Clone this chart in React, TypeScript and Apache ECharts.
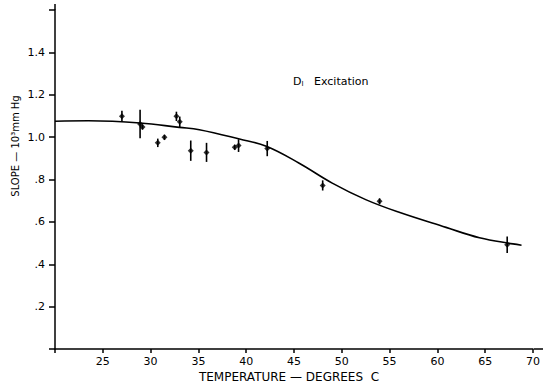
import React, { useEffect, useRef } from "react";
import * as echarts from "echarts";

const temps = [27.0, 28.9, 29.15, 30.75, 31.45, 32.7, 33.05, 34.2, 35.85, 38.8, 39.2, 42.2, 48.0, 53.95, 67.3];
const slopes = [1.098, 1.062, 1.048, 0.973, 0.999, 1.098, 1.072, 0.936, 0.928, 0.952, 0.96, 0.946, 0.772, 0.697, 0.492];
const errors = [0.026, 0.067, 0.012, 0.02, 0.012, 0.022, 0.025, 0.048, 0.045, 0.012, 0.03, 0.036, 0.024, 0.014, 0.039];

const curveT = [20, 23.5, 28.9, 33, 35.1, 39.3, 42.1, 45.5, 49, 52.5, 56, 60.9, 64.4, 67.9, 68.8];
const curveV = [1.075, 1.077, 1.067, 1.046, 1.035, 0.991, 0.957, 0.878, 0.783, 0.705, 0.645, 0.574, 0.525, 0.496, 0.49];

const xTicks = [25, 30, 35, 40, 45, 50, 55, 60, 65, 70];
const yTickLabels: Record<string, string> = { "0.2": ".2", "0.4": ".4", "0.6": ".6", "0.8": ".8", "1": "1.0", "1.2": "1.2", "1.4": "1.4" };

const FONT = "DejaVu Sans";

export default function App() {
  const ref = useRef<HTMLDivElement>(null);
  useEffect(() => {
    document.body.style.margin = "0";
    if (!ref.current) return;
    const chart = echarts.init(ref.current, undefined, { renderer: "svg" });
    const points = temps.map((t, i) => [t, slopes[i]]);
    const bars = temps.map((t, i) => [t, slopes[i] - errors[i], slopes[i] + errors[i]]);
    const curve = curveT.map((t, i) => [t, curveV[i]]);
    chart.setOption({
      animation: false,
      backgroundColor: "#ffffff",
      grid: { left: 55, right: 9, top: 10, bottom: 41, containLabel: false },
      xAxis: {
        type: "value",
        min: 20,
        max: 70,
        interval: 5,
        axisLine: { show: true, lineStyle: { color: "#000", width: 1.5 } },
        axisTick: { show: true, inside: false, length: 4, lineStyle: { color: "#000", width: 1.5 } },
        splitLine: { show: false },
        axisLabel: {
          color: "#000",
          fontFamily: FONT,
          fontSize: 11,
          margin: 7,
          formatter: (v: number) => (xTicks.includes(v) ? String(v) : ""),
        },
      },
      yAxis: {
        type: "value",
        min: 0,
        max: 1.6,
        interval: 0.2,
        axisLine: { show: true, lineStyle: { color: "#000", width: 1.5 } },
        axisTick: { show: true, inside: false, length: 6, lineStyle: { color: "#000", width: 1.5 } },
        splitLine: { show: false },
        axisLabel: {
          color: "#000",
          fontFamily: FONT,
          fontSize: 11,
          margin: 10,
          formatter: (v: number) => yTickLabels[String(Math.round(v * 10) / 10)] ?? "",
        },
      },
      graphic: [
        {
          type: "line",
          shape: { x1: 534, y1: 349, x2: 543, y2: 349 },
          style: { stroke: "#000", lineWidth: 1.5 },
        },
        {
          type: "line",
          shape: { x1: 55, y1: 4, x2: 55, y2: 10 },
          style: { stroke: "#000", lineWidth: 1.5 },
        },
        {
          type: "text",
          x: 15,
          y: 146,
          rotation: Math.PI / 2,
          style: {
            text: "SLOPE — 10³mm Hg",
            fontFamily: FONT,
            fontSize: 10,
            fill: "#000",
            align: "center",
            verticalAlign: "middle",
          },
        },
        {
          type: "text",
          x: 289,
          y: 377,
          style: {
            text: "TEMPERATURE — DEGREES  C",
            fontFamily: FONT,
            fontSize: 12,
            fill: "#000",
            align: "center",
            verticalAlign: "middle",
          },
        },
        {
          type: "text",
          x: 293,
          y: 81,
          style: {
            text: "{d|D}{s|I}{e|   Excitation}",
            fill: "#000",
            verticalAlign: "middle",
            rich: {
              d: { fontFamily: FONT, fontSize: 11, fill: "#000" },
              s: { fontFamily: FONT, fontSize: 7, fill: "#000", padding: [6, 0, 0, 0] },
              e: { fontFamily: FONT, fontSize: 11, fill: "#000" },
            },
          },
        },
      ],
      series: [
        {
          type: "line",
          data: curve,
          smooth: 0.4,
          symbol: "none",
          lineStyle: { color: "#000", width: 1.6 },
          z: 2,
        },
        {
          type: "custom",
          data: bars,
          renderItem: (params: any, api: any) => {
            const x = api.value(0);
            const lo = api.coord([x, api.value(1)]);
            const hi = api.coord([x, api.value(2)]);
            return {
              type: "line",
              shape: { x1: lo[0], y1: lo[1], x2: hi[0], y2: hi[1] },
              style: { stroke: "#000", lineWidth: 1.6 },
            };
          },
          z: 3,
        },
        {
          type: "scatter",
          data: points,
          symbol: "diamond",
          symbolSize: 6,
          itemStyle: { color: "#000" },
          z: 4,
        },
      ],
    });
    return () => chart.dispose();
  }, []);
  return <div ref={ref} style={{ width: 543, height: 390 }} />;
}
